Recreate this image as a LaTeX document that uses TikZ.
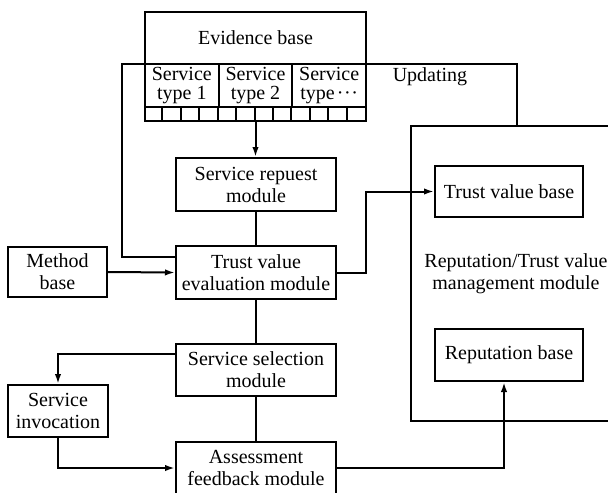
\documentclass[tikz,border=0pt]{standalone}
\usepackage{fontspec}
\setmainfont{Liberation Serif}
\usepackage{tikz}
\usetikzlibrary{arrows.meta, positioning, calc}
\tikzset{
    modbox/.style={
        draw, line width=1pt,
        minimum width=80pt, minimum height=26.5pt,
        inner sep=0pt, align=center
    },
    typebox/.style={
        draw, line width=1pt,
        minimum width=36.83pt, minimum height=21.5pt,
        inner sep=0pt, align=center,
        font=\fontsize{10}{9.2}\selectfont
    },
    flow/.style={-{Latex[length=5pt, width=3.2pt]}, line width=1pt},
    link/.style={line width=1pt},
}
\newcommand{\dotsmid}{\kern1pt·\kern0.3pt·\kern0.3pt·}
\begin{document}
\begin{tikzpicture}[x=0.5pt, y=-0.5pt, font=\fontsize{10}{11}\selectfont]
    \useasboundingbox (0,0) rectangle (608,492);
        \node[modbox, minimum width=110.5pt, minimum height=26pt] (evid)
              at (255.5,38) {Evidence base};
        \node[typebox] (st1) at (181.8,85.5) {Service\\type 1};
        \node[typebox] (st2) at (255.5,85.5) {Service\\type 2};
        \node[typebox] (st3) at (329.2,85.5) {Service\\type\dotsmid};
        \node[modbox, minimum width=110.5pt, minimum height=7pt] (cells)
              at (255.5,114) {};
        \foreach \k in {1,...,11}
            \draw[link] ($(cells.north west)+(\k*18.417,0)$) -- ++(0,14);
        \node[modbox] (srq) at (256,184.5) {Service repuest\\module};
        \node[modbox] (tve) at (256,272.5) {Trust value\\evaluation module};
        \node[modbox, minimum width=49.5pt, minimum height=25pt] (mb)
              at (57.5,272) {Method\\base};
        \node[modbox, minimum height=26pt] (srl) at (256,370)
              {Service selection\\module};
        \node[modbox, minimum width=50pt, minimum height=26pt] (inv)
              at (58,411) {Service\\invocation};
        \node[modbox] (afb) at (256,468) {Assessment\\feedback module};
        \node[modbox, minimum width=105pt, minimum height=147.5pt] (mgmt)
              at (516,273.5) {Reputation/Trust value\\management module};
        \node[modbox, minimum width=74pt, minimum height=25.5pt] (tvb)
              at (509,191.5) {Trust value base};
        \node[modbox, minimum width=74pt, minimum height=26pt] (rpb)
              at (509,355) {Reputation base};
        \node (upd) at (430,77) {Updating};
        \coordinate (evl) at (122,64);
        \coordinate (evr) at (517,64);
        \draw[link] ([yshift=7.75pt]tve.west) -| (evl) -- (evr) -- (evr |- mgmt.north);
        \draw[flow] (cells.south) -- (cells.south |- srq.north);
        \draw[link] (srq.south) -- (tve.north);
        \draw[link] (tve.south) -- (srl.north);
        \draw[link] (srl.south) -- (afb.north);
        \draw[flow] (mb.east) -- (tve.west);
        \draw[flow] (tve.east) -- ++(29,0) |- (tvb.west);
        \draw[flow] ([yshift=8pt]srl.west) -| (inv.north);
        \draw[flow] (inv.south) |- (afb.west);
        \draw[flow] (afb.east) -| ([xshift=-2.5pt]rpb.south);
    \end{tikzpicture}
\end{document}
